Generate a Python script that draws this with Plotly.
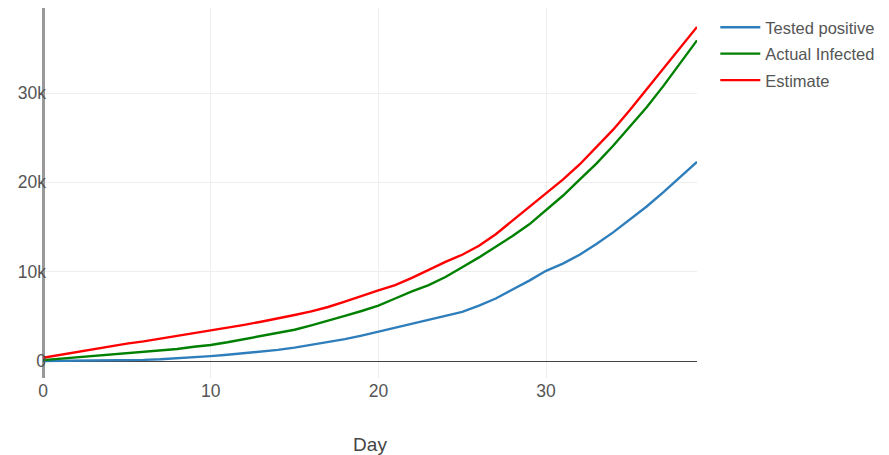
import plotly.graph_objects as go

days = list(range(40))

tested_positive = [0, 10, 20, 40, 60, 90, 130, 200, 300, 420,
                   550, 700, 870, 1050, 1250, 1500, 1800, 2100, 2450, 2850,
                   3300, 3750, 4200, 4600, 5050, 5500, 6200, 7000, 8000, 9000,
                   10100, 10900, 11900, 13100, 14400, 15800, 17300, 18900, 20600, 22300]

actual_infected = [100, 250, 400, 550, 700, 850, 1000, 1150, 1350, 1600,
                   1800, 2100, 2450, 2800, 3150, 3500, 4000, 4500, 5050, 5600,
                   6200, 7000, 7800, 8500, 9400, 10500, 11600, 12800, 14000, 15300,
                   16900, 18500, 20300, 22100, 24100, 26200, 28400, 30800, 33300, 35900]

estimate = [370, 700, 1000, 1300, 1650, 1950, 2200, 2500, 2800, 3100,
            3450, 3750, 4050, 4400, 4750, 5150, 5550, 6050, 6650, 7300,
            7900, 8500, 9300, 10200, 11100, 11900, 12900, 14200, 15700, 17200,
            18800, 20300, 22000, 23900, 25900, 28100, 30400, 32800, 35100, 37400]

series_names = ["Tested positive", "Actual Infected", "Estimate"]
series_colors = ["#2f7ebc", "green", "red"]

fig = go.Figure()
for name, vals, col in zip(series_names, [tested_positive, actual_infected, estimate], series_colors):
    fig.add_trace(go.Scatter(x=days, y=vals, mode="lines", name=name, legendgroup=name,
                             line=dict(color=col, width=2.4)))

font = "Liberation Sans, Arial, sans-serif"
fig.update_layout(
    template="none",
    width=881, height=447,
    margin=dict(l=35, r=192, t=0, b=77),
    paper_bgcolor="white", plot_bgcolor="white",
    font=dict(family=font, size=17.5, color="#555"),
    legend=dict(font=dict(size=16.5, color="#555"), x=1.028, y=0.9946,
                itemwidth=40, tracegroupgap=2),
    xaxis=dict(range=[0, 39], title=dict(text="Day", font=dict(size=19, color="#444"), standoff=38),
               dtick=10, gridcolor="#eee", zeroline=True, zerolinecolor="#999",
               zerolinewidth=3, showline=False, ticks="",
               tickfont=dict(size=17.5)),
    yaxis=dict(range=[-1900, 39520], dtick=10000, gridcolor="#eee",
               zeroline=True, zerolinecolor="#444", zerolinewidth=1,
               showline=False, ticks="", ticklabelstandoff=-4,
               tickfont=dict(size=17.5)),
)
fig.write_html("out.html")
